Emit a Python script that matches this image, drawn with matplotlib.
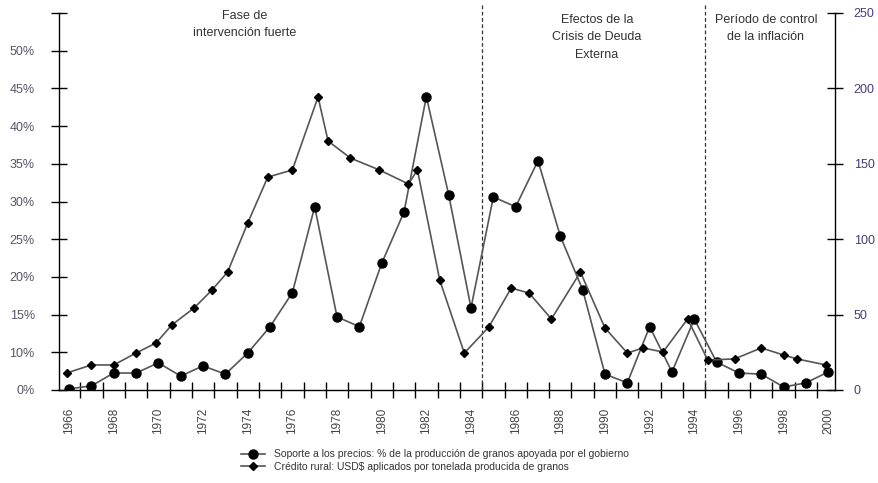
import matplotlib.pyplot as plt
import numpy as np
from matplotlib.legend_handler import HandlerLine2D

# Soporte a los precios (%), one point per year 1966-2000
soporte_years = list(range(1966, 2001))
soporte_pct = [0.3, 1.1, 4.5, 4.5, 7.2, 3.7, 6.4, 4.2, 9.8, 13.4,
               17.9, 29.3, 14.7, 13.4, 21.8, 28.6, 43.9, 30.9, 15.9, 30.6,
               29.3, 35.4, 25.4, 18.3, 4.2, 1.9, 13.4, 4.8, 14.4, 7.4,
               4.5, 4.2, 0.8, 1.9, 4.8]

# Crédito rural (USD$/t), positions
credito_x = [1965.9, 1967.0, 1968.0, 1969.0, 1969.9, 1970.6, 1971.6, 1972.4, 1973.1, 1974.0,
             1974.9, 1976.0, 1977.15, 1977.6, 1978.6, 1979.9, 1981.2, 1981.6, 1982.6, 1983.7,
             1984.8, 1985.8, 1986.6, 1987.6, 1988.9, 1990.0, 1991.0, 1991.7, 1992.6, 1993.7,
             1994.6, 1995.8, 1997.0, 1998.0, 1998.6, 1999.9]
credito_usd = [11.3, 16.6, 16.6, 24.5, 31.2, 43.1, 54.4, 66.3, 78.2, 110.7,
               141.2, 145.9, 194.3, 165.1, 153.8, 145.9, 136.6, 145.9, 72.9, 24.5,
               41.8, 67.6, 64.3, 47.1, 78.2, 41.1, 24.5, 27.9, 25.2, 47.1,
               19.9, 20.6, 27.9, 23.2, 20.6, 16.6]

left_ticks = [0, 10, 15, 20, 25, 30, 35, 40, 45, 50, 55]
left_labels = ["0%", "10%", "15%", "20%", "25%", "30%", "35%", "40%", "45%", "50%", ""]
right_ticks = [0, 50, 100, 150, 200, 250]
year_labels = list(range(1966, 2001, 2))
period_breaks = [1984.5, 1994.5]


# the left axis of the original skips 5%: 0% then 10%, 15%, ... evenly spaced
def fwd(v):
    v = np.asarray(v, dtype=float)
    return np.where(v < 10, v / 2.0, v - 5.0)


def inv(p):
    p = np.asarray(p, dtype=float)
    return np.where(p < 5, p * 2.0, p + 5.0)


class LeftMarker(HandlerLine2D):
    def get_xdata(self, legend, xdescent, ydescent, width, height, fontsize):
        return [-xdescent, -xdescent + width], [-xdescent + 2]


plt.rcParams['font.family'] = ['Liberation Sans', 'DejaVu Sans']

fig = plt.figure(figsize=(8.79, 4.83), dpi=100)
ax = fig.add_axes([59 / 879, 1 - 390 / 483, 776 / 879, 377 / 483])
ax2 = ax.twinx()

ax.set_yscale('function', functions=(fwd, inv))
ax.set_ylim(0, 55)
ax2.set_ylim(0, 250)
ax.set_xlim(1965.55, 2000.3)

l1, = ax.plot(soporte_years, soporte_pct, color='#555555', lw=1.2, marker='o',
              ms=6.5, mfc='black', mec='black', zorder=3)
l2, = ax2.plot(credito_x, credito_usd, color='#555555', lw=1.2, marker='D',
               ms=4, mfc='black', mec='black', zorder=3)

for xb in period_breaks:
    ax.axvline(xb, ymin=0, ymax=1.02, color='#333333', lw=0.9, ls=(0, (3, 2)),
               clip_on=False)

# axes styling
for a in (ax, ax2):
    a.spines['top'].set_visible(False)
ax.spines['right'].set_visible(False)
ax2.spines['left'].set_visible(False)
ax2.spines['bottom'].set_visible(False)
for s in ['left', 'bottom']:
    ax.spines[s].set_linewidth(1.0)
ax2.spines['right'].set_linewidth(1.0)

ax.set_yticks(left_ticks)
ax.set_yticklabels(left_labels)
ax.yaxis.set_minor_locator(plt.NullLocator())
ax.tick_params(axis='y', direction='inout', length=11, width=1, pad=12,
               labelsize=9, labelcolor='#555566')

ax2.set_yticks(right_ticks)
ax2.tick_params(axis='y', direction='inout', length=11, width=1, pad=8,
                labelsize=9, labelcolor='#4a3a78')

ax.set_xticks([y + 0.5 for y in range(1966, 2000)])
ax.set_xticklabels([])
ax.set_xticks(year_labels, minor=True)
ax.set_xticklabels([str(y) for y in year_labels], minor=True, rotation=90)
ax.tick_params(axis='x', which='major', direction='inout', length=11, width=1)
ax.tick_params(axis='x', which='minor', length=0, pad=13, labelsize=8.5,
               labelcolor='#444444')

# period annotations
txt = dict(ha='center', va='top', fontsize=9, color='#333333', linespacing=1.6)
fig.text(245 / 879, 1 - 10 / 483, "Fase de\nintervención fuerte", **txt)
fig.text(597 / 879, 1 - 14 / 483, "Efectos de la\nCrisis de Deuda\nExterna", **txt)
fig.text(766 / 879, 1 - 14 / 483, "Período de control\nde la inflación", **txt)

fig.legend([l1, l2],
           ["Soporte a los precios: % de la producción de granos apoyada por el gobierno",
            "Crédito rural: USD$ aplicados por tonelada producida de granos"],
           handler_map={l1: LeftMarker(), l2: LeftMarker()},
           loc='upper left', bbox_to_anchor=(236 / 879, 1 - 444 / 483),
           frameon=False, fontsize=7.5, handlelength=2.3, handletextpad=0.8,
           labelspacing=0.25, borderpad=0, labelcolor='#333333')

fig.savefig('out.png', dpi=100)
